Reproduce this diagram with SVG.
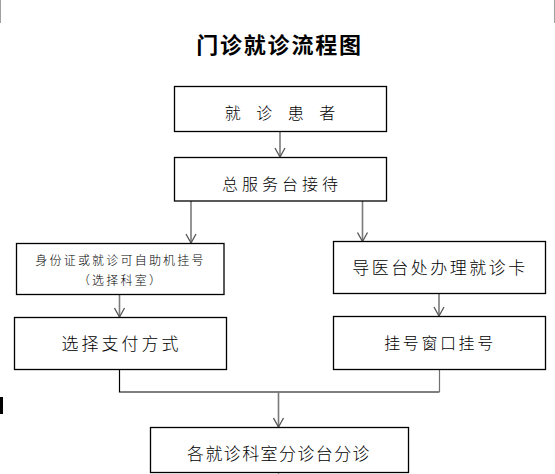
<svg xmlns="http://www.w3.org/2000/svg" width="555" height="474" viewBox="0 0 555 474">
<defs>
<style>
.box{fill:#fff;stroke:#000;stroke-width:1.3}
.t{font-family:"Noto Sans CJK SC","Noto Sans CJK TC",sans-serif;fill:#000;text-anchor:middle;font-weight:300}
.arr{stroke:#7a7a7a;stroke-width:1.6;fill:none}
.ln{stroke:#000;stroke-width:1.2;fill:none}
</style>
<marker id="ah" markerWidth="12" markerHeight="12" viewBox="0 0 12 12" refX="11" refY="6" orient="auto" markerUnits="userSpaceOnUse">
<path d="M2,1 L11,6 L2,11" fill="none" stroke="#555" stroke-width="1.3"/>
</marker>
</defs>
<rect width="555" height="474" fill="#fff"/>
<line x1="0.5" y1="0" x2="0.5" y2="23" stroke="#a0a0a0" stroke-width="1"/>
<line x1="554.5" y1="0" x2="554.5" y2="23" stroke="#a0a0a0" stroke-width="1"/>
<rect x="0" y="397" width="3" height="17" fill="#000"/>
<text x="279.5" y="53" class="t" style="font-size:22px;font-weight:bold;letter-spacing:1.8px">门诊就诊流程图</text>

<g id="connectors">
<line class="arr" x1="280" y1="132" x2="280" y2="157" marker-end="url(#ah)"/>
<line class="arr" x1="191" y1="201" x2="191" y2="243" marker-end="url(#ah)"/>
<line class="arr" x1="362.5" y1="201" x2="362.5" y2="241.5" marker-end="url(#ah)"/>
<line class="arr" x1="119.5" y1="294.5" x2="119.5" y2="317" marker-end="url(#ah)"/>
<line class="arr" x1="439" y1="293.5" x2="439" y2="316" marker-end="url(#ah)"/>
<polyline class="ln" points="119.5,369.5 119.5,392 439.5,392"/>
<line x1="439.5" y1="369.5" x2="439.5" y2="392" stroke="#707070" stroke-width="1.2"/>
<line class="arr" x1="278.5" y1="392" x2="278.5" y2="427" marker-end="url(#ah)"/>
<line x1="278.5" y1="472" x2="278.5" y2="474" stroke="#999" stroke-width="1.2"/>
</g>

<g id="n1">
<rect class="box" x="174.5" y="86.5" width="212" height="45"/>
<text x="283" y="119" class="t" style="font-size:16px;letter-spacing:6px" xml:space="preserve">就 诊 患 者</text>
</g>
<g id="n2">
<rect class="box" x="174.5" y="157.5" width="212" height="43.5"/>
<text x="282" y="190" class="t" style="font-size:16px;letter-spacing:4px">总服务台接待</text>
</g>
<g id="n3">
<rect class="box" x="16.5" y="243.5" width="207.5" height="51"/>
<text x="120.5" y="265" class="t" style="font-size:12px;letter-spacing:2.2px">身份证或就诊可自助机挂号</text>
<text x="120.5" y="285" class="t" style="font-size:12px;letter-spacing:2.2px">（选择科室）</text>
</g>
<g id="n4">
<rect class="box" x="333.5" y="241.5" width="212" height="52"/>
<text x="440" y="274" class="t" style="font-size:17px;letter-spacing:2.5px">导医台处办理就诊卡</text>
</g>
<g id="n5">
<rect class="box" x="14.5" y="317.5" width="212" height="52"/>
<text x="121.5" y="350" class="t" style="font-size:17px;letter-spacing:3px">选择支付方式</text>
</g>
<g id="n6">
<rect class="box" x="333.5" y="316.5" width="212" height="53"/>
<text x="440" y="349" class="t" style="font-size:16px;letter-spacing:2.6px">挂号窗口挂号</text>
</g>
<g id="n7">
<rect class="box" x="150.5" y="427.5" width="258" height="45"/>
<text x="279" y="460" class="t" style="font-size:17px;letter-spacing:1.4px">各就诊科室分诊台分诊</text>
</g>
</svg>
